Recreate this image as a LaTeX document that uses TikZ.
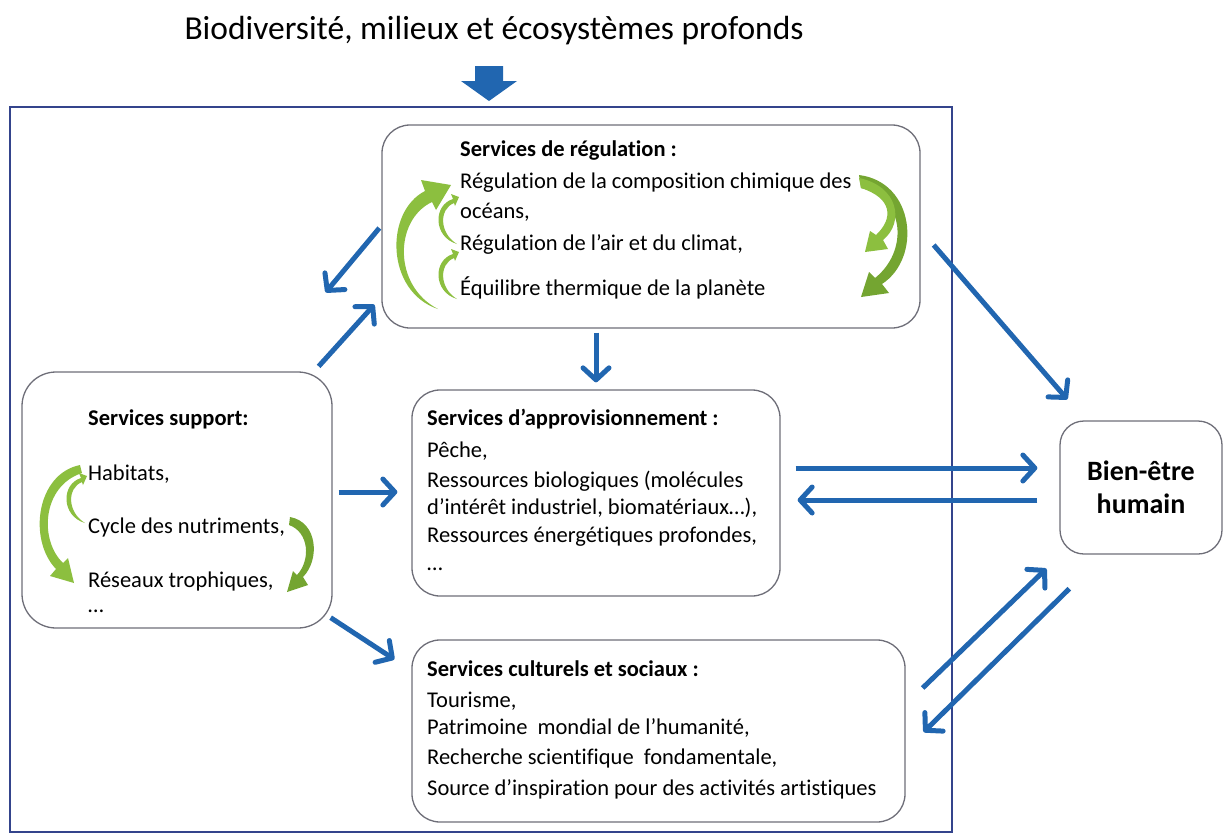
\documentclass[tikz,border=0pt]{standalone}
\usepackage{fontspec}
\setmainfont{Carlito}[Ligatures=NoCommon]
\usetikzlibrary{arrows.meta,calc}
\definecolor{bl}{HTML}{2166B0}
\definecolor{frm}{HTML}{34448C}
\definecolor{boxc}{HTML}{6E6E78}
\definecolor{gr}{HTML}{8CBF3F}
\definecolor{grd}{HTML}{74A531}
\tikzset{
 svc/.style={draw=boxc, line width=1.3pt, rounded corners=28pt, fill=white, inner sep=0pt},
 txt/.style={anchor=west, inner sep=0pt, font=\fontsize{22.5}{26}\selectfont},
 ttl/.style={anchor=west, inner sep=0pt, font=\fontsize{22.5}{26}\selectfont\bfseries},
 barrow/.style={draw=bl, line width=5pt, -{Straight Barb[length=12pt,width=26pt,round]}},
 smallarc/.pic={\fill[gr] (-2,47) .. controls (-26,40) and (-26,8) .. (-6,2) -- (-8,-3) -- (0,0) -- (-4,9) -- (-5,6) .. controls (-20,12) and (-20,36) .. (-2,47) -- cycle;}
}
\begin{document}
\begin{tikzpicture}[x=1pt,y=-1pt]
\useasboundingbox (0,0) rectangle (1224,836);
% title and frame
\node[inner sep=0pt, font=\fontsize{33.5}{38}\selectfont] (title) at (494,31) {Biodiversité, milieux et écosystèmes profonds};
\node[draw=frm, line width=1.6pt, minimum width=942pt, minimum height=725pt, inner sep=0pt] (frame) at (481,469.5) {};
\fill[bl] (475,66) -- (503,66) -- (503,81) -- (517,81) -- (489,101) -- (461,81) -- (475,81) -- cycle;

% boxes
\node[svc, minimum width=538pt, minimum height=203pt] (reg) at (651,226.5) {};
\node[svc, minimum width=310pt, minimum height=256pt, rounded corners=34pt] (sup) at (177,500) {};
\node[svc, minimum width=368pt, minimum height=206pt] (app) at (596,493) {};
\node[svc, minimum width=493pt, minimum height=182pt] (cul) at (658.5,731) {};
\node[svc, minimum width=162pt, minimum height=133pt, rounded corners=24pt] (bien) at (1141,487.5) {};

% regulation text
\node[ttl] (r0) at (460,151) {Services de régulation :};
\node[txt] (r1) at (460,183) {Régulation de la composition chimique des};
\node[txt] (r2) at (460,212) {océans,};
\node[txt] (r3) at (460,244) {Régulation de l’air et du climat,};
\node[txt] (r4) at (460,288) {Équilibre thermique de la planète};

% support text
\node[ttl] (s0) at (88,419) {Services support:};
\node[txt] (s1) at (88,474) {Habitats,};
\node[txt] (s2) at (88,527) {Cycle des nutriments,};
\node[txt] (s3) at (88,581) {Réseaux trophiques,};
\node[txt] (s4) at (88,611) {…};

% approvisionnement text
\node[ttl] (a0) at (427,419) {Services d’approvisionnement :};
\node[txt] (a1) at (427,451) {Pêche,};
\node[txt] (a2) at (427,481) {Ressources biologiques (molécules};
\node[txt] (a3) at (427,508) {d’intérêt industriel, biomatériaux…),};
\node[txt] (a4) at (427,537) {Ressources énergétiques profondes,};
\node[txt] (a5) at (427,569) {…};

% culturels text
\node[ttl] (c0) at (427,669) {Services culturels et sociaux :};
\node[txt] (c1) at (427,701) {Tourisme,};
\node[txt] (c2) at (427,728) {Patrimoine\ \ mondial de l’humanité,};
\node[txt] (c3) at (427,758) {Recherche scientifique\ \ fondamentale,};
\node[txt] (c4) at (427,789) {Source d’inspiration pour des activités artistiques};

% bien-etre
\node[align=center, inner sep=0pt, font=\fontsize{28}{33}\selectfont\bfseries] (bt) at (bien.center) {Bien-être\\humain};

% green arcs - regulation
\fill[gr] (438,309) .. controls (386,292) and (384,212) .. (425,191) -- (421,180) -- (451,185) -- (436,210) -- (432,202) .. controls (394,220) and (393,286) .. (438,309) -- cycle;
\pic at (459,197) {smallarc};
\pic at (459,252) {smallarc};
\fill[grd] (859,175) .. controls (915,182) and (922,258) .. (882,284) -- (889,293) -- (861,297) -- (869,272) -- (875,278) .. controls (908,252) and (906,198) .. (861,188) -- cycle;
\fill[gr] (859,178) .. controls (898,186) and (905,222) .. (883,240) -- (888,249) -- (865,252) -- (870,231) -- (876,235) .. controls (894,218) and (892,198) .. (861,188) -- cycle;
% green arcs - support
\fill[gr] (80,465) .. controls (36,474) and (28,540) .. (56,569) -- (50,576) -- (74,583) -- (68,558) -- (63,563) .. controls (39,540) and (42,486) .. (82,473) -- cycle;
\pic at (87,476) {smallarc};
\fill[grd] (290,517) .. controls (318,522) and (320,560) .. (303,577) -- (308,585) -- (287,592) -- (293,571) -- (297,575) .. controls (311,560) and (309,532) .. (289,525) -- cycle;

% blue arrows
\draw[barrow] ($(reg.west)+(-2,1.5)$) -- ($(sup.north east)+(-7,-79)$);
\draw[barrow] ($(sup.north east)+(-14,-5)$) -- ($(reg.south west)+(-7,-24)$);
\draw[barrow] ($(reg.south)+(-55,4)$) -- ($(app.north)+(0,-7)$);
\draw[barrow] ($(sup.east)+(6,-8)$) -- ($(app.west)+(-14,-1)$);
\draw[barrow] ($(sup.south east)+(-2,-11)$) -- ($(cul.north west)+(-17,20)$);
\draw[barrow] ($(reg.east)+(13,18.5)$) -- ($(bien.north west)+(8,-21)$);
\draw[barrow] ($(app.east)+(15,-25)$) -- ($(bien.west)+(-22,-19.5)$);
\draw[barrow] ($(bien.west)+(-22,12.5)$) -- ($(app.east)+(17,7)$);
\draw[barrow] ($(cul.east)+(17,-43)$) -- ($(bien.south west)+(-13,14)$);
\draw[barrow] ($(bien.south west)+(10,34)$) -- ($(cul.east)+(18,1)$);
\end{tikzpicture}
\end{document}
